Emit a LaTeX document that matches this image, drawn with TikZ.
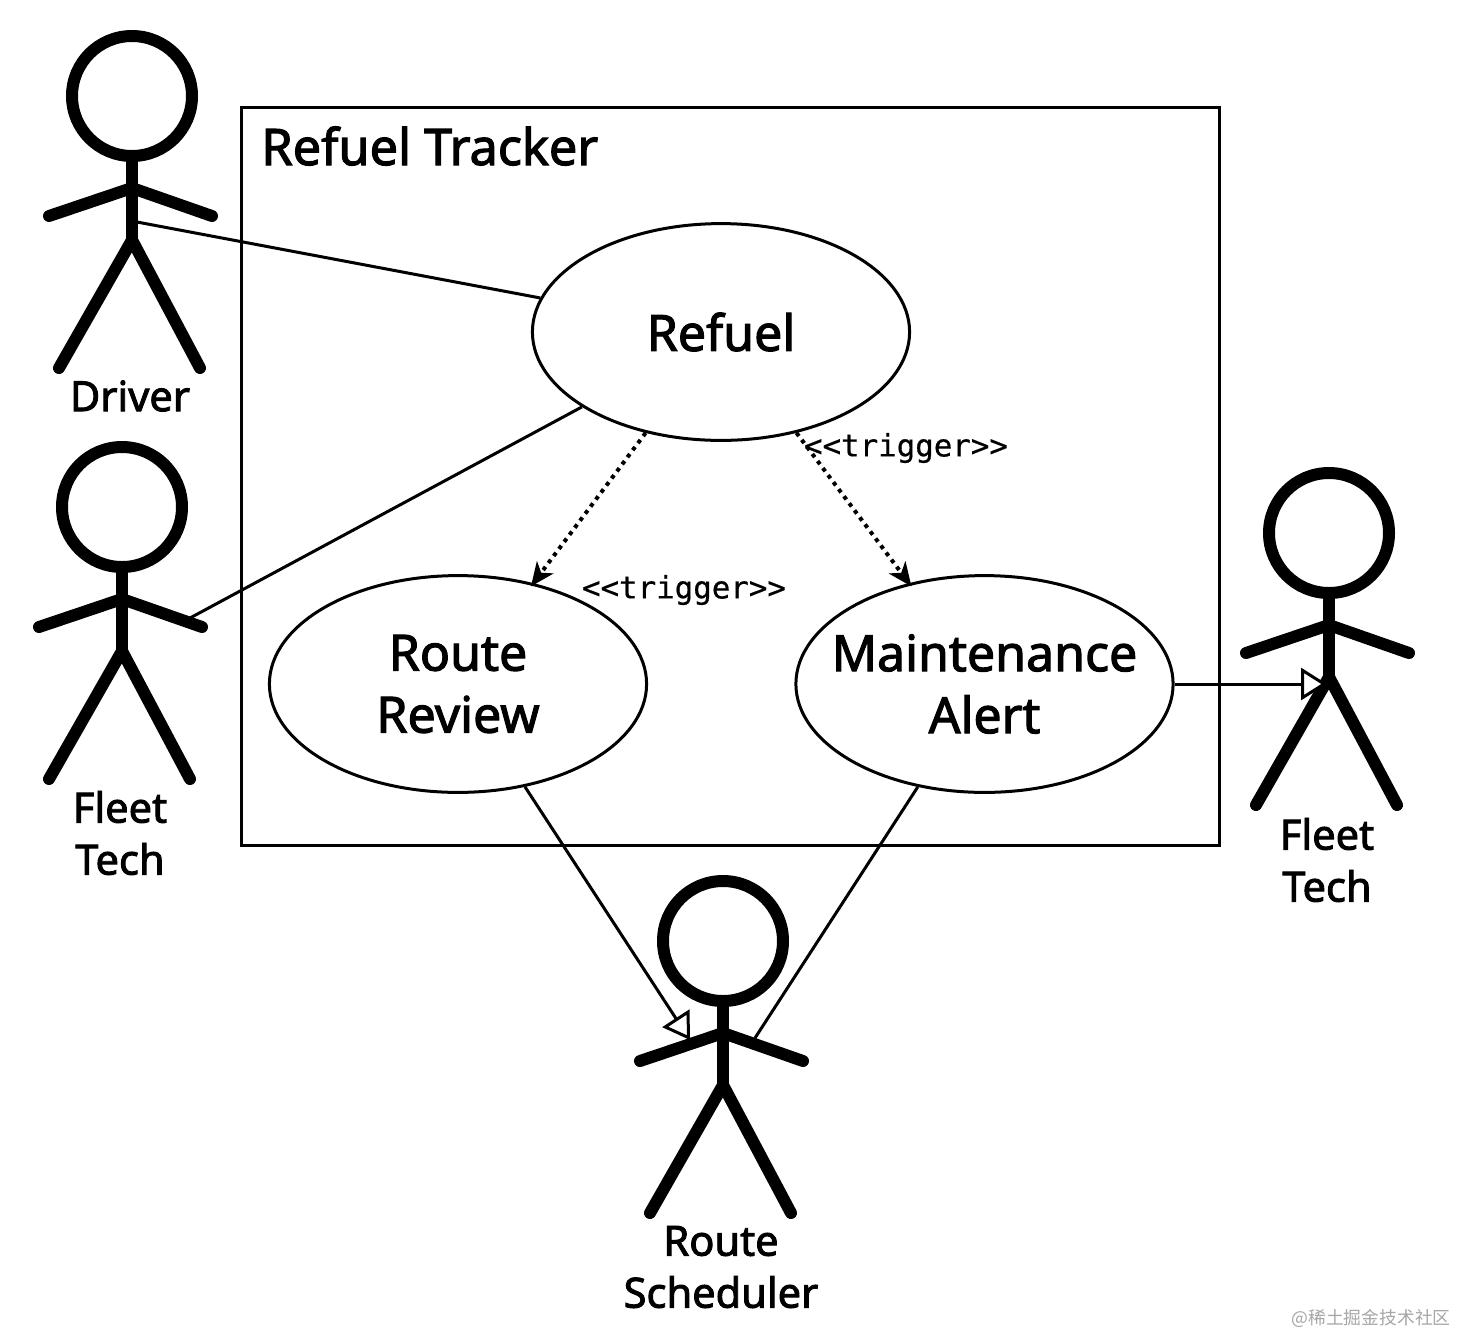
\documentclass[tikz,border=0pt]{standalone}
\usepackage{fontspec}
\setmainfont[FakeBold=2.2]{Noto Sans}
\newfontfamily\monof[FakeBold=0.6]{DejaVu Sans Mono}
\newfontfamily\cjkf{Noto Sans CJK SC}
\usetikzlibrary{arrows.meta,shapes.geometric}
\tikzset{
  usecase/.style={draw,ellipse,line width=1.5pt,minimum width=188.6pt,minimum height=108.4pt,inner xsep=-40pt,inner ysep=0pt,align=center,font=\fontsize{25}{31}\selectfont},
  sysbox/.style={draw,line width=1.5pt},
  actorline/.style={line width=6pt,line cap=round,line join=round},
  actorname/.style={align=center,font=\fontsize{20.8}{26}\selectfont},
  assoc/.style={line width=1.5pt},
  general/.style={line width=1.5pt,-{Triangle[fill=white,length=13pt,width=16pt,line width=1.5pt]}},
  triggerline/.style={line width=2pt,dash pattern=on 2pt off 2.4pt,shorten >=-2pt,-{Stealth[length=12pt,width=10.5pt,inset=3.5pt,line width=0pt,sep=0pt]}},
  triggerlabel/.style={font=\monof\fontsize{15.4}{18}\selectfont},
}
\newcommand{\stickman}[3]{% name, head centre x, head centre y
  \begin{scope}[shift={(#2,#3)}]
    \node[circle,draw,line width=6pt,minimum size=60pt,inner sep=0pt] (#1) at (0,0) {};
    \draw[actorline] (0,60) -- (0,144);
    \draw[actorline] (-83,120) -- (0,92) -- (80,120);
    \draw[actorline] (-73,272) -- (0,144) -- (68,272);
  \end{scope}}
\begin{document}
\begin{tikzpicture}[x=0.5pt,y=-0.5pt]
\useasboundingbox (0,0) rectangle (1458,1335);
\node[sysbox,minimum width=489pt,minimum height=369pt,inner sep=0pt] (sys) at (730,476) {};
\node[anchor=west,inner sep=0pt,font=\fontsize{25.2}{28}\selectfont] (title) at (261,146) {Refuel Tracker};
\node[usecase] (refuel) at (721,332) {Refuel};
\node[usecase] (review) at (458,684) {Route\\Review};
\node[usecase] (maint) at (984.5,684) {Maintenance\\Alert};
\stickman{driver}{132}{96}
\stickman{techl}{122}{507}
\stickman{techr}{1329}{533}
\stickman{sched}{723}{941}
\node[actorname] (driverlabel) at (130,396) {Driver};
\node[actorname] (techllabel) at (120,833) {Fleet\\Tech};
\node[actorname] (techrlabel) at (1327,860) {Fleet\\Tech};
\node[actorname] (schedlabel) at (721,1267) {Route\\Scheduler};
\coordinate (driverend) at (137,222);
\coordinate (techlend) at (190,618);
\coordinate (schedtipa) at (690,1040);
\coordinate (schedend) at (755,1038);
\coordinate (techrtip) at (1327,684);
\draw[assoc] (driverend) -- (refuel);
\draw[assoc] (techlend) -- (refuel);
\draw[triggerline] (refuel) -- (review);
\draw[triggerline] (refuel) -- (maint);
\draw[general] (review) -- (schedtipa);
\draw[assoc] (maint) -- (schedend);
\draw[general] (maint) -- (techrtip);
\node[triggerlabel] (trigb) at (906,448) {<<trigger>>};
\node[triggerlabel] (triga) at (684,590) {<<trigger>>};
\node[anchor=east,inner sep=0pt,text=black!35,font=\cjkf\fontsize{8.9}{11}\selectfont] (mark) at (1451,1318) {@稀土掘金技术社区};
\end{tikzpicture}
\end{document}
